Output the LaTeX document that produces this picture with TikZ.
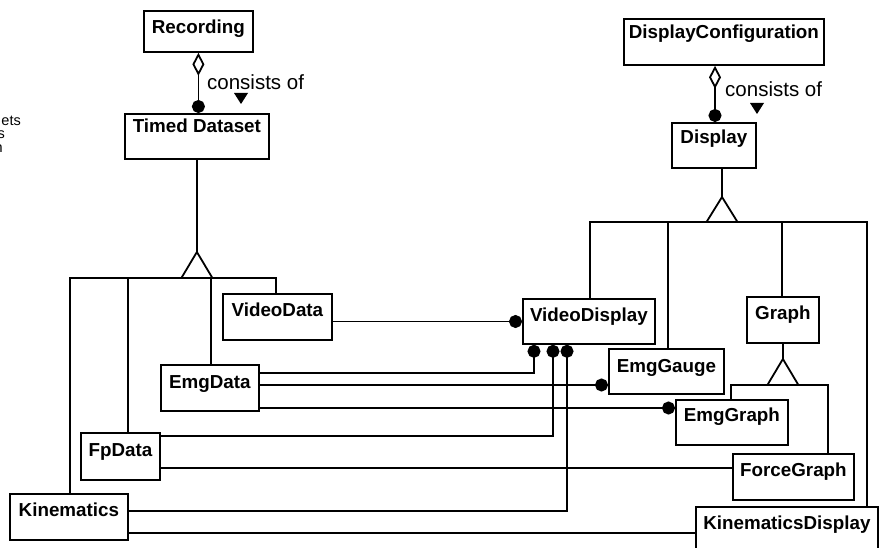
\documentclass[tikz,border=0pt]{standalone}
\usepackage{fontspec}
\setmainfont{Liberation Sans}
\usetikzlibrary{arrows.meta}

\tikzset{
  ln/.style={line width=1.8pt},
  cls/.style={draw, line width=1.8pt, inner sep=0pt, anchor=north west,
    font=\fontsize{18.8}{21}\selectfont\bfseries},
  lbl/.style={inner sep=0pt, font=\fontsize{20.5}{23}\selectfont},
  frag/.style={inner sep=0pt, font=\fontsize{14.5}{16}\selectfont},
  assoc/.style={ln, -{Circle[length=13pt]}},
  agg/.style={ln, {Diamond[open,length=23pt,width=12pt,fill=white]}-{Circle[length=13pt]}},
  gen/.style={ln, fill=white, line join=miter},
}

\begin{document}
\begin{tikzpicture}[x=1pt, y=-1pt]
\useasboundingbox (0,0) rectangle (883,548);
\clip (0,0) rectangle (883,548);

% cut-off note at the left margin
\node[frag, anchor=base east] (f1) at (21,126) {ets};
\node[frag, anchor=base east] (f2) at (5,139) {s};
\node[frag, anchor=base east] (f3) at (3,153) {n};

% classes
\node[cls, minimum width=109pt, minimum height=41pt, text height=23pt, text depth=18pt] (rec) at (143,10) {Recording};
\node[cls, minimum width=144pt, minimum height=45pt, text height=19pt, text depth=26pt] (tds) at (124,113) {Timed Dataset};
\node[cls, minimum width=200pt, minimum height=46pt, text height=20pt, text depth=26pt] (dcf) at (623,18) {DisplayConfiguration};
\node[cls, minimum width=84pt, minimum height=45pt, text height=21pt, text depth=24pt] (dsp) at (671,122) {Display};

\node[cls, minimum width=109pt, minimum height=46pt, text height=23pt, text depth=23pt] (vdat) at (222,293) {VideoData};
\node[cls, minimum width=98pt, minimum height=46pt, text height=24pt, text depth=22pt] (emg) at (160,364) {EmgData};
\node[cls, minimum width=79pt, minimum height=47pt, text height=24pt, text depth=23pt] (fp) at (80,432) {FpData};
\node[cls, minimum width=118pt, minimum height=46pt, text height=23pt, text depth=23pt] (kin) at (9,493) {Kinematics};

\node[cls, minimum width=132pt, minimum height=45pt, text height=23pt, text depth=22pt] (vdis) at (522,298) {VideoDisplay};
\node[cls, minimum width=72pt, minimum height=46pt, text height=23pt, text depth=23pt] (graph) at (746,296) {Graph};
\node[cls, minimum width=115pt, minimum height=45pt, text height=24pt, text depth=21pt] (gauge) at (608,348) {EmgGauge};
\node[cls, minimum width=112pt, minimum height=45pt, text height=22pt, text depth=23pt] (egraph) at (675,399) {EmgGraph};
\node[cls, minimum width=121pt, minimum height=46pt, text height=23pt, text depth=23pt] (fgraph) at (732,453) {ForceGraph};
\node[cls, minimum width=182pt, minimum height=60pt, text height=23pt, text depth=37pt] (kdis) at (695,506) {KinematicsDisplay};

% aggregations
\draw[agg] (rec.south) -- (rec.south |- tds.north);
\draw[agg] (715,0 |- dcf.south) -- (715,0 |- dsp.north);

\node[lbl, anchor=base west] (c1) at (207,90) {consists of};
\node[lbl, anchor=base west] (c2) at (725,97) {consists of};
\fill ([shift={(27,3)}]c1.base west) -- ++(14,0) -- ++(-7,11) -- cycle;
\fill ([shift={(25,6)}]c2.base west) -- ++(14,0) -- ++(-7,11) -- cycle;

% generalisation: Timed Dataset
\draw[ln] (tds.south) -- (tds.south |- 0,252);
\draw[ln] (70,0 |- kin.north) |- (276,278) -- (276,0 |- vdat.north);
\draw[ln] (128,278) -- (128,0 |- fp.north);
\draw[ln] (211,278) -- (211,0 |- emg.north);
\draw[gen] (tds.south |- 0,252) -- ++(-15.5,26) -- ++(31,0) -- cycle;

% generalisation: Display
\draw[ln] (722,0 |- dsp.south) -- (722,197);
\draw[ln] (590,0 |- vdis.north) |- (867,222) -- (867,0 |- kdis.north);
\draw[ln] (668,222) -- (668,0 |- gauge.north);
\draw[ln] (782,222) -- (782,0 |- graph.north);
\draw[gen] (722,197) -- ++(-15.5,25) -- ++(31,0) -- cycle;

% generalisation: Graph
\draw[ln] (graph.south) -- (graph.south |- 0,359);
\draw[ln] (731,0 |- egraph.north) |- (828,385) -- (828,0 |- fgraph.north);
\draw[gen] (graph.south |- 0,359) -- ++(-15.5,26) -- ++(31,0) -- cycle;

% associations
\draw[assoc] (vdat.east |- 0,321.5) -- (vdis.west |- 0,321.5);
\draw[assoc] (emg.east |- 0,373) -| (534,0 |- vdis.south);
\draw[assoc] (emg.east |- 0,385) -- (gauge.west |- 0,385);
\draw[assoc] (emg.east |- 0,408) -- (egraph.west |- 0,408);
\draw[assoc] (fp.east |- 0,436) -| (553,0 |- vdis.south);
\draw[ln] (fp.east |- 0,468) -- (fgraph.west |- 0,468);
\draw[assoc] (kin.east |- 0,511) -| (567,0 |- vdis.south);
\draw[ln] (kin.east |- 0,533) -- (kdis.west |- 0,533);
\end{tikzpicture}
\end{document}
